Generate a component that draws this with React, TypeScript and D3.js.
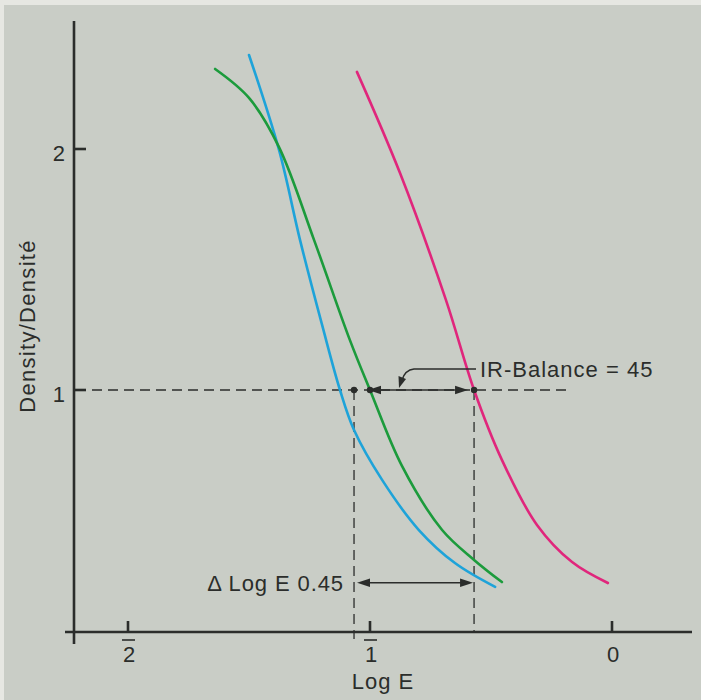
import React from "react";
import * as d3 from "d3";

// Characteristic curves: density versus log exposure for three emulsion layers
const cyanCurve: [number, number][] = [
  [-1.5, 2.39], [-1.376, 1.996], [-1.289, 1.622], [-1.198, 1.27], [-1.124, 1.0],
  [-1.066, 0.834], [-0.95, 0.627], [-0.798, 0.419], [-0.649, 0.282], [-0.483, 0.183],
];
const greenCurve: [number, number][] = [
  [-1.64, 2.332], [-1.5, 2.212], [-1.376, 2.008], [-1.231, 1.622], [-1.083, 1.207],
  [-1.0, 1.0], [-0.868, 0.685], [-0.702, 0.419], [-0.57, 0.295], [-0.455, 0.203],
];
const magentaCurve: [number, number][] = [
  [-1.054, 2.32], [-0.876, 1.9], [-0.686, 1.373], [-0.57, 1.0], [-0.455, 0.71],
  [-0.31, 0.44], [-0.165, 0.286], [-0.017, 0.199],
];

const yTicks = [1, 2];
const xTicks = [
  { value: -2, digit: "2", bar: true },
  { value: -1, digit: "1", bar: true },
  { value: 0, digit: "0", bar: false },
];

// Reference density and the marked exposure points on it
const refDensity = 1;
const markA = -1.066;
const markGreen = -1.0;
const markMagenta = -0.57;
const deltaDensity = 0.2;

const W = 701;
const H = 700;
const ink = "#2b2d2b";
const font = "'Liberation Sans', Arial, Helvetica, sans-serif";

export default function App() {
  const x = d3.scaleLinear().domain([-2, 0]).range([128, 612]);
  const y = d3.scaleLinear().domain([0, 2]).range([631, 149]);
  const line = d3
    .line<[number, number]>()
    .x((d) => x(d[0]))
    .y((d) => y(d[1]))
    .curve(d3.curveCatmullRom.alpha(0.5));

  const axisY = y(0);
  const yRef = y(refDensity);
  const yDelta = y(deltaDensity);

  const arrowHead = (tipX: number, tipY: number, dir: number) => {
    const len = 13;
    const hw = 4.2;
    return `M${tipX},${tipY} L${tipX - dir * len},${tipY - hw} L${tipX - dir * len},${tipY + hw} Z`;
  };

  return (
    <svg
      width={W}
      height={H}
      style={{ position: "absolute", left: 0, top: 0, display: "block" }}
      fontFamily={font}
    >
      <rect x={0} y={0} width={W} height={H} fill="#c9cdc6" />
      <rect x={0} y={0} width={W} height={5} fill="#e6e7e2" />
      <rect x={0} y={0} width={4} height={H} fill="#e6e7e2" />

      {/* axes */}
      <line x1={74} y1={21} x2={74} y2={644} stroke={ink} strokeWidth={2.6} />
      <line x1={65} y1={axisY + 1} x2={692} y2={axisY + 1} stroke={ink} strokeWidth={2.6} />

      {yTicks.map((t) => (
        <g key={t}>
          <line x1={74} x2={86} y1={y(t)} y2={y(t)} stroke={ink} strokeWidth={2.6} />
          <text x={65} y={y(t) + 12} fontSize={22} fill={ink} textAnchor="end">
            {t}
          </text>
        </g>
      ))}

      {xTicks.map((t) => (
        <g key={t.value}>
          <line x1={x(t.value)} x2={x(t.value)} y1={axisY - 10} y2={axisY} stroke={ink} strokeWidth={2.6} />
          <text x={x(t.value) + 1} y={662} fontSize={22} fill={ink} textAnchor="middle">
            {t.digit}
          </text>
          {t.bar && (
            <line
              x1={x(t.value) - 6}
              x2={x(t.value) + 7}
              y1={640}
              y2={640}
              stroke={ink}
              strokeWidth={1.6}
            />
          )}
        </g>
      ))}

      <text x={383} y={689} fontSize={22} letterSpacing={1} fill={ink} textAnchor="middle">
        Log E
      </text>
      <text
        transform={`translate(35,326) rotate(-90)`}
        fontSize={22}
        letterSpacing={1.3}
        fill={ink}
        textAnchor="middle"
      >
        Density/Densité
      </text>

      {/* reference lines */}
      <g stroke={ink} strokeWidth={1.3} strokeDasharray="10 6" fill="none">
        <line x1={76} x2={570} y1={yRef} y2={yRef} />
        <line x1={x(markA)} x2={x(markA)} y1={yRef} y2={axisY + 8} />
        <line x1={x(markMagenta)} x2={x(markMagenta)} y1={yRef} y2={axisY} />
      </g>

      {/* curves */}
      <g fill="none" strokeWidth={2.6} strokeLinecap="round">
        <path d={line(cyanCurve) ?? ""} stroke="#1ea3d9" />
        <path d={line(greenCurve) ?? ""} stroke="#1c9b3c" />
        <path d={line(magentaCurve) ?? ""} stroke="#e0267c" />
      </g>

      {/* IR balance arrow */}
      <line x1={x(markGreen) + 6} x2={x(markMagenta) - 10} y1={yRef} y2={yRef} stroke={ink} strokeWidth={1.6} />
      <path d={arrowHead(x(markGreen) - 2, yRef, -1)} fill={ink} />
      <path d={arrowHead(x(markMagenta) - 6, yRef, 1)} fill={ink} />
      {[markA, markGreen, markMagenta].map((m) => (
        <circle key={m} cx={x(m)} cy={yRef} r={3.2} fill={ink} />
      ))}

      <path
        d={`M476,369 L414,369 Q405,370 402,380`}
        fill="none"
        stroke={ink}
        strokeWidth={1.4}
      />
      <path d="M399,388 L398.5,376 L406,379 Z" fill={ink} />
      <text x={480} y={377} fontSize={22} letterSpacing={1} fill={ink}>
        IR-Balance = 45
      </text>

      {/* delta log E arrow */}
      <line x1={x(markA) + 8} x2={x(markMagenta) - 8} y1={yDelta} y2={yDelta} stroke={ink} strokeWidth={1.4} />
      <path d={arrowHead(x(markA) + 3, yDelta, -1)} fill={ink} />
      <path d={arrowHead(x(markMagenta) - 1, yDelta, 1)} fill={ink} />
      <text x={344} y={yDelta + 8} fontSize={22} letterSpacing={0.9} fill={ink} textAnchor="end">
        Δ Log E 0.45
      </text>
    </svg>
  );
}
